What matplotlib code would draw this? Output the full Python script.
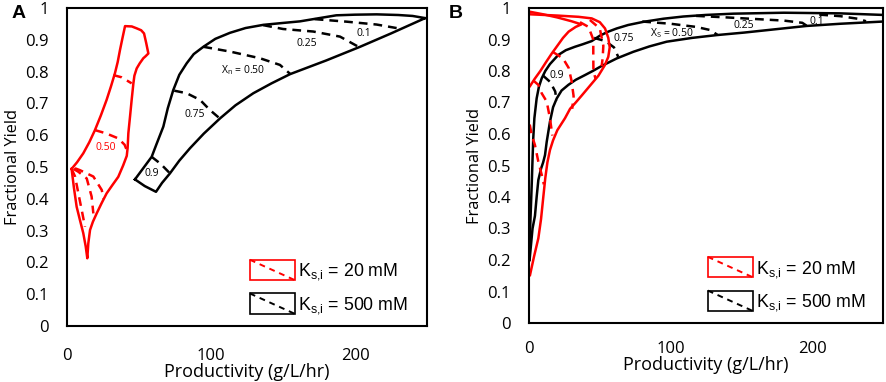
import matplotlib
matplotlib.use("Agg")
import matplotlib.pyplot as plt
from matplotlib.legend_handler import HandlerBase
from matplotlib.patches import Rectangle
from matplotlib.lines import Line2D

plt.rcParams['font.family'] = ['Open Sans', 'DejaVu Sans']

# ---------------- Panel A data ----------------
# Ks,i = 500 mM (black) envelope
A_BLK_UPPER_X = [47.2, 58.8, 62, 66.9, 70, 73.8, 78, 83.1, 88, 94.7, 103, 113.2, 124, 136.3, 150,
                 161.8, 175, 187, 200, 215, 230, 240, 249]
A_BLK_UPPER_Y = [0.461, 0.532, 0.57, 0.627, 0.685, 0.742, 0.79, 0.826, 0.855, 0.878, 0.903, 0.922,
                 0.937, 0.947, 0.953, 0.958, 0.968, 0.977, 0.979, 0.980, 0.978, 0.975, 0.968]
A_BLK_LOWER_X = [248.6, 225, 203.5, 180, 154.9, 142, 129.4, 117, 106.3, 95, 85.4, 78, 71.5, 66, 61.8, 54, 47.2]
A_BLK_LOWER_Y = [0.968, 0.920, 0.878, 0.835, 0.792, 0.763, 0.732, 0.694, 0.653, 0.605, 0.559, 0.520,
                 0.480, 0.450, 0.422, 0.440, 0.461]
# black dashed contours (Xn)
A_BLK_09_X = [58.8, 65, 71.5]
A_BLK_09_Y = [0.532, 0.51, 0.480]
A_BLK_075_X = [74.5, 83.1, 92.4, 99.3, 105.5]
A_BLK_075_Y = [0.740, 0.732, 0.711, 0.679, 0.655]
A_BLK_050_X = [94.7, 113.2, 134, 147.9, 154.9]
A_BLK_050_Y = [0.878, 0.863, 0.842, 0.821, 0.793]
A_BLK_025_X = [136.3, 150, 171, 189.6, 202]
A_BLK_025_Y = [0.946, 0.934, 0.926, 0.910, 0.879]
A_BLK_01_X = [172, 194.2, 215, 230]
A_BLK_01_Y = [0.965, 0.957, 0.948, 0.936]
# Ks,i = 20 mM (red) envelope
A_RED_X = [3.2, 7, 11.3, 15.5, 19.4, 23.5, 27.5, 30.5, 33.3, 35.2, 36.8, 38.5, 40.3, 45, 48.4, 51.5,
           53.5, 55, 56.5, 54.5, 53, 50.5, 48.4, 46.8, 46.1, 45.5, 44.9, 43.8, 42.6, 42.1, 41.5, 39,
           35.6, 31.5, 27.5, 24, 20.6, 18, 16, 14.8, 14.1, 13, 11.3, 9, 6.7, 4.8, 3.2]
A_RED_Y = [0.494, 0.515, 0.543, 0.578, 0.616, 0.662, 0.711, 0.753, 0.795, 0.830, 0.868, 0.905, 0.943,
           0.942, 0.936, 0.930, 0.920, 0.890, 0.857, 0.848, 0.842, 0.826, 0.810, 0.787, 0.763, 0.737,
           0.711, 0.660, 0.606, 0.560, 0.535, 0.505, 0.469, 0.443, 0.417, 0.386, 0.354, 0.328, 0.302,
           0.260, 0.213, 0.250, 0.292, 0.333, 0.375, 0.435, 0.494]
A_RED_080_X = [32.2, 38, 44.9]
A_RED_080_Y = [0.789, 0.782, 0.763]
A_RED_050_X = [19.4, 27, 35.6, 40, 42.4]
A_RED_050_Y = [0.616, 0.606, 0.590, 0.570, 0.543]
A_RED_F1_X = [3.2, 5.6, 7.9, 10.2, 12.5]
A_RED_F1_Y = [0.494, 0.470, 0.417, 0.365, 0.312]
A_RED_F2_X = [4.5, 7.9, 13.7, 17.1, 18.3]
A_RED_F2_Y = [0.494, 0.485, 0.464, 0.407, 0.354]
A_RED_F3_X = [5.5, 9, 18.3, 24.1, 25.5]
A_RED_F3_Y = [0.496, 0.490, 0.470, 0.428, 0.400]

A_LABELS = ["0.9", "0.75", "X$_\\mathregular{n}$ = 0.50", "0.25", "0.1"]
A_LABEL_X = [58.8, 88.9, 122.5, 166.4, 205.8]
A_LABEL_Y = [0.478, 0.664, 0.805, 0.889, 0.920]
A_RED_LABEL = "0.50"
A_RED_LABEL_XY = (27.1, 0.561)

# ---------------- Panel B data ----------------
B_BLK_LEFT_X = [0.3, 0.8, 1.4, 2.0, 2.5, 3.0, 3.8, 5.4, 7, 9, 11.5, 14.8, 20.7, 26, 32.5, 38, 44.3, 50,
                56, 61.9, 70, 80.7, 95, 109, 125, 144.3, 180, 219.6, 250]
B_BLK_LEFT_Y = [0.20, 0.30, 0.375, 0.45, 0.52, 0.586, 0.65, 0.713, 0.75, 0.777, 0.80, 0.822, 0.851,
                0.866, 0.877, 0.885, 0.895, 0.912, 0.925, 0.935, 0.946, 0.956, 0.966, 0.973, 0.978,
                0.982, 0.985, 0.983, 0.978]
B_BLK_RIGHT_X = [0.4, 2.5, 4.2, 5.4, 6.6, 8.5, 10, 11.3, 12.5, 14.8, 17, 19.6, 23, 27.8, 33, 39.5, 45,
                 51.3, 62, 73.7, 85, 97.2, 115, 132.6, 152, 175, 196, 220, 250]
B_BLK_RIGHT_Y = [0.20, 0.30, 0.34, 0.40, 0.454, 0.49, 0.51, 0.533, 0.575, 0.639, 0.685, 0.713, 0.738,
                 0.756, 0.772, 0.787, 0.800, 0.816, 0.840, 0.861, 0.878, 0.893, 0.905, 0.914, 0.922,
                 0.933, 0.943, 0.950, 0.957]
B_BLK_09_X = [10, 15, 18.5, 19.5]
B_BLK_09_Y = [0.785, 0.765, 0.735, 0.705]
B_BLK_075_X = [46, 54, 60, 63]
B_BLK_075_Y = [0.905, 0.895, 0.875, 0.845]
B_BLK_050_X = [80, 100, 118, 128, 133]
B_BLK_050_Y = [0.957, 0.950, 0.940, 0.930, 0.915]
B_BLK_025_X = [118, 140, 160, 180, 193, 196]
B_BLK_025_Y = [0.975, 0.970, 0.965, 0.960, 0.953, 0.944]
B_BLK_01_X = [205, 220, 232, 238]
B_BLK_01_Y = [0.979, 0.974, 0.966, 0.958]

B_RED_OUTER_X = [0.7, 3.5, 6.6, 8.5, 10.1, 11.5, 13, 14.8, 17, 20, 25.4, 29, 33, 37.2, 43, 49, 53.5,
                 56, 57, 56, 53.7, 50, 44.3, 35, 20, 0.7]
B_RED_OUTER_Y = [0.152, 0.21, 0.269, 0.33, 0.40, 0.46, 0.51, 0.549, 0.58, 0.612, 0.650, 0.680, 0.700,
                 0.722, 0.753, 0.785, 0.818, 0.845, 0.875, 0.905, 0.935, 0.955, 0.967, 0.972, 0.976, 0.980]
B_RED_INNER_X = [0.7, 10, 20, 30, 37, 33, 28, 24, 20, 16, 12, 8, 4, 0.7]
B_RED_INNER_Y = [0.988, 0.980, 0.970, 0.958, 0.948, 0.940, 0.925, 0.905, 0.880, 0.855, 0.828, 0.800,
                 0.775, 0.752]
B_RED_D1_X = [43, 50, 52.5, 52, 51.3]
B_RED_D1_Y = [0.962, 0.935, 0.88, 0.84, 0.815]
B_RED_D2_X = [36, 42, 45.4, 45.4, 45.5, 47]
B_RED_D2_Y = [0.955, 0.940, 0.90, 0.85, 0.80, 0.775]
B_RED_D3_X = [17, 24, 28, 30, 31.5, 30.5]
B_RED_D3_Y = [0.86, 0.84, 0.81, 0.77, 0.72, 0.68]
B_RED_D4_X = [3, 6.6, 9, 12.5, 14.8, 16.5]
B_RED_D4_Y = [0.77, 0.756, 0.729, 0.703, 0.650, 0.595]
B_RED_D5_X = [0.5, 1.9, 4.2, 6.6, 9, 10.5]
B_RED_D5_Y = [0.63, 0.597, 0.565, 0.512, 0.47, 0.44]

B_LABELS = ["0.9", "0.75", "X$_\\mathregular{S}$ = 0.50", "0.25", "0.1"]
B_LABEL_X = [19.6, 66.6, 100.8, 151.4, 203]
B_LABEL_Y = [0.787, 0.904, 0.920, 0.946, 0.957]

# ---------------- axes settings ----------------
X_TICKS = [0, 100, 200]
Y_TICKS = [0, 0.1, 0.2, 0.3, 0.4, 0.5, 0.6, 0.7, 0.8, 0.9, 1]
Y_TICKLABELS = ["0", "0.1", "0.2", "0.3", "0.4", "0.5", "0.6", "0.7", "0.8", "0.9", "1"]
LEGEND_LABELS = ["K$_{\\mathregular{s{,}i}}$ = 20 mM", "K$_{\\mathregular{s{,}i}}$ = 500 mM"]
RED = "#ff0000"
BLACK = "#000000"

LW = 1.8
DASH = (0, (3.5, 2.4))


class RectDashHandler(HandlerBase):
    def create_artists(self, legend, orig_handle, xdescent, ydescent, width, height, fontsize, trans):
        c = orig_handle.get_color()
        x0, y0 = -xdescent, -ydescent
        rect = Rectangle((x0, y0), width, height, fill=False, edgecolor=c, lw=1.2, transform=trans)
        ln = Line2D([x0, x0 + width], [y0 + height, y0], color=c, lw=1.4, ls=(0, (3, 2.5)), transform=trans)
        return [rect, ln]


def style_axes(ax, xpad):
    ax.set_xlim(0, 250)
    ax.set_ylim(0, 1)
    ax.set_xticks(X_TICKS)
    ax.set_yticks(Y_TICKS)
    ax.set_yticklabels(Y_TICKLABELS)
    ax.tick_params(length=0, labelsize=12)
    ax.tick_params(axis='x', pad=xpad)
    ax.tick_params(axis='y', pad=13)
    for s in ax.spines.values():
        s.set_linewidth(1.5)
    ax.set_xlabel("Productivity (g/L/hr)", fontsize=13, labelpad=-1)
    ax.set_ylabel("Fractional Yield", fontsize=11.8, labelpad=3)


def add_legend(ax, anchor):
    handles = [Line2D([], [], color=RED), Line2D([], [], color=BLACK)]
    leg = ax.legend(handles, LEGEND_LABELS, handler_map={Line2D: RectDashHandler()},
                    loc='lower left', bbox_to_anchor=anchor, frameon=False,
                    prop={'family': 'Liberation Sans', 'size': 12.8},
                    handlelength=2.55, handleheight=1.4, labelspacing=0.62,
                    handletextpad=0.15, borderpad=0, borderaxespad=0)
    return leg


fig = plt.figure(figsize=(8.86, 3.82), dpi=100)
axA = fig.add_axes([67 / 886, 1 - 326 / 382, 360 / 886, 318 / 382])
axB = fig.add_axes([529 / 886, 1 - 323 / 382, 354 / 886, 315 / 382])

# Panel A
axA.plot(A_BLK_UPPER_X + A_BLK_LOWER_X, A_BLK_UPPER_Y + A_BLK_LOWER_Y, color=BLACK, lw=LW)
for xs, ys in [(A_BLK_09_X, A_BLK_09_Y), (A_BLK_075_X, A_BLK_075_Y), (A_BLK_050_X, A_BLK_050_Y),
               (A_BLK_025_X, A_BLK_025_Y), (A_BLK_01_X, A_BLK_01_Y)]:
    axA.plot(xs, ys, color=BLACK, lw=LW, ls=DASH)
axA.plot(A_RED_X, A_RED_Y, color=RED, lw=LW)
for xs, ys in [(A_RED_080_X, A_RED_080_Y), (A_RED_050_X, A_RED_050_Y), (A_RED_F1_X, A_RED_F1_Y),
               (A_RED_F2_X, A_RED_F2_Y), (A_RED_F3_X, A_RED_F3_Y)]:
    axA.plot(xs, ys, color=RED, lw=LW, ls=DASH)
for t, x, y in zip(A_LABELS, A_LABEL_X, A_LABEL_Y):
    axA.text(x, y, t, fontsize=7.5, ha='center', va='center', color=BLACK)
axA.text(A_RED_LABEL_XY[0], A_RED_LABEL_XY[1], A_RED_LABEL, fontsize=7.5, ha='center', va='center', color=RED)
style_axes(axA, 16)
add_legend(axA, (0.508, 0.031))

# Panel B
axB.plot(B_BLK_LEFT_X, B_BLK_LEFT_Y, color=BLACK, lw=LW)
axB.plot(B_BLK_RIGHT_X, B_BLK_RIGHT_Y, color=BLACK, lw=LW)
for xs, ys in [(B_BLK_09_X, B_BLK_09_Y), (B_BLK_075_X, B_BLK_075_Y), (B_BLK_050_X, B_BLK_050_Y),
               (B_BLK_025_X, B_BLK_025_Y), (B_BLK_01_X, B_BLK_01_Y)]:
    axB.plot(xs, ys, color=BLACK, lw=LW, ls=DASH)
axB.plot(B_RED_OUTER_X, B_RED_OUTER_Y, color=RED, lw=LW)
axB.plot(B_RED_INNER_X, B_RED_INNER_Y, color=RED, lw=LW)
for xs, ys in [(B_RED_D1_X, B_RED_D1_Y), (B_RED_D2_X, B_RED_D2_Y), (B_RED_D3_X, B_RED_D3_Y),
               (B_RED_D4_X, B_RED_D4_Y), (B_RED_D5_X, B_RED_D5_Y)]:
    axB.plot(xs, ys, color=RED, lw=LW, ls=DASH)
for t, x, y in zip(B_LABELS, B_LABEL_X, B_LABEL_Y):
    axB.text(x, y, t, fontsize=7.5, ha='center', va='center', color=BLACK)
style_axes(axB, 13)
add_legend(axB, (0.505, 0.031))

fig.text(12 / 886, 1 - 14 / 382, "A", fontsize=14, fontweight='bold', family='Liberation Sans',
         ha='left', va='center')
fig.text(449 / 886, 1 - 14 / 382, "B", fontsize=14, fontweight='bold', family='Liberation Sans',
         ha='left', va='center')

fig.savefig("out.png", dpi=100)
